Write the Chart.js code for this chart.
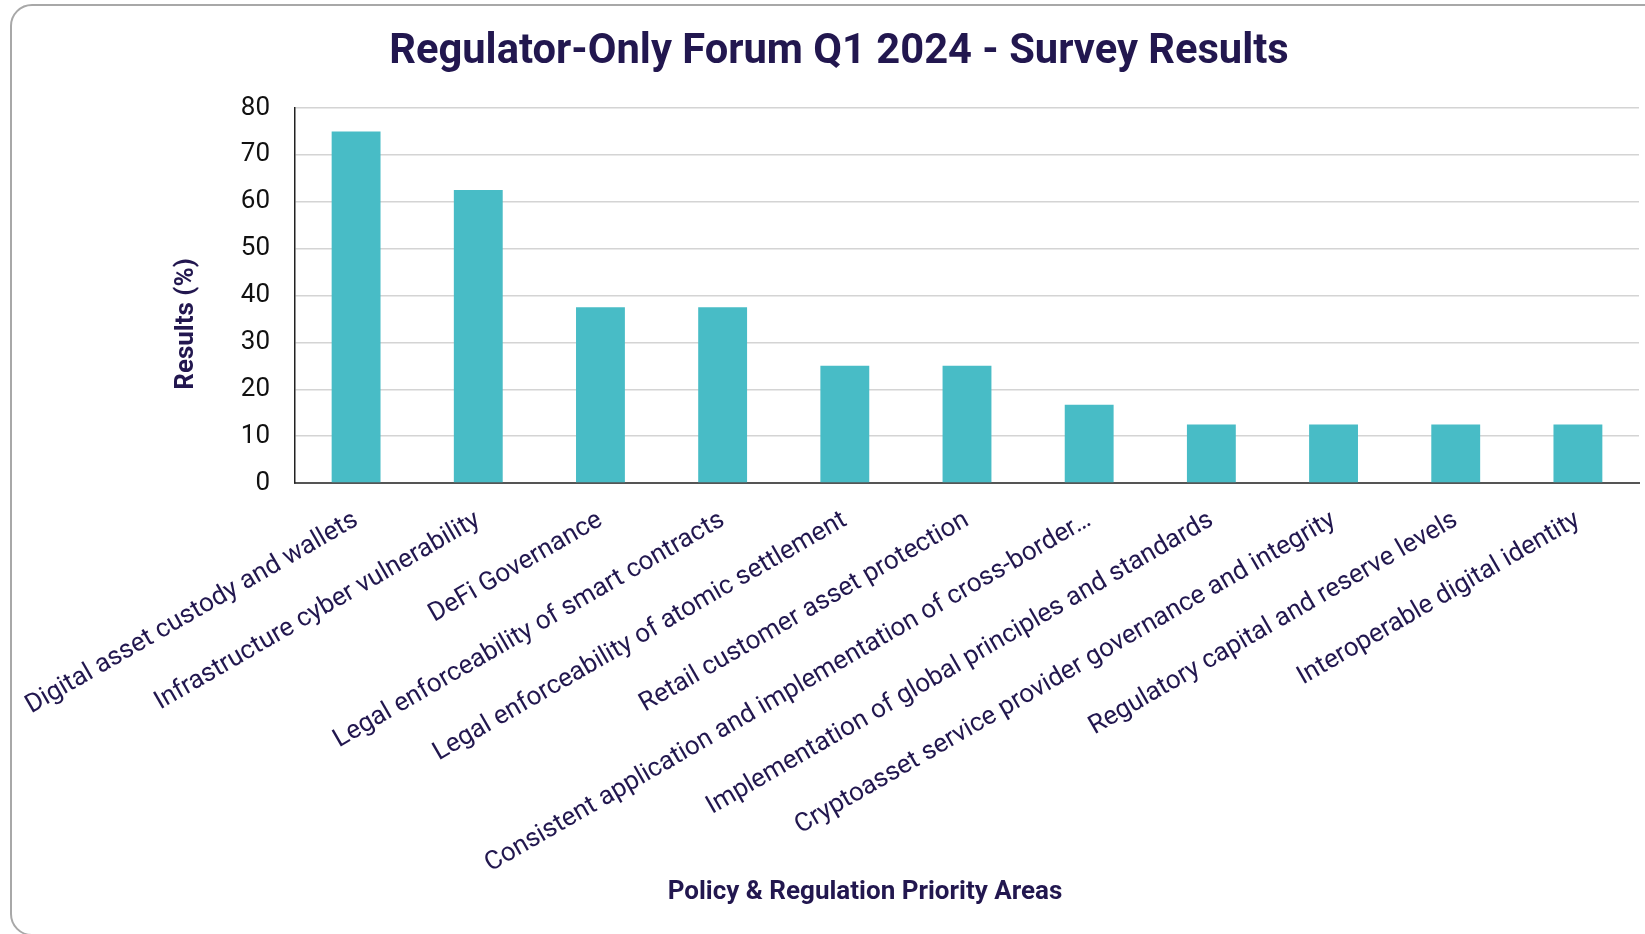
<!DOCTYPE html>
<html>
<head>
<meta charset="utf-8">
<title>Regulator-Only Forum Q1 2024 - Survey Results</title>
<script src="https://cdn.jsdelivr.net/npm/chart.js@4.4.1/dist/chart.umd.min.js"></script>
<style>
  html, body { margin: 0; padding: 0; background: #fff; overflow: hidden; }
  #frame {
    position: absolute; left: 10px; top: 4px; width: 1700px; height: 932px;
    border: 2px solid #a8a8a8; border-radius: 22px; box-sizing: border-box;
  }
  #mycanvas { position: absolute; left: 0; top: 0; }
</style>
</head>
<body>
<div id="frame"></div>
<canvas id="mycanvas" width="1678" height="934"></canvas>
<script>
const categories = [
    "Digital asset custody and wallets",
    "Infrastructure cyber vulnerability",
    "DeFi Governance",
    "Legal enforceability of smart contracts",
    "Legal enforceability of atomic settlement",
    "Retail customer asset protection",
    "Consistent application and implementation of cross-border\u2026",
    "Implementation of global principles and standards",
    "Cryptoasset service provider governance and integrity",
    "Regulatory capital and reserve levels",
    "Interoperable digital identity"
];
const results = [75, 62.5, 37.5, 37.5, 25, 25, 16.7, 12.5, 12.5, 12.5, 12.5];
const yTicks = [0, 10, 20, 30, 40, 50, 60, 70, 80];

const navy = "#22174f";
const font = "Roboto, 'Noto Sans', sans-serif";

// axis titles sit off-centre in the original, so draw them by hand
const axisTitles = {
    id: "axisTitles",
    afterDraw(chart) {
        const c = chart.ctx;
        c.save();
        c.fillStyle = navy;
        c.font = "bold 26px " + font;
        c.textAlign = "center";
        c.textBaseline = "middle";
        c.fillText("Policy & Regulation Priority Areas", 865, 892);
        c.translate(186, 324);
        c.rotate(-Math.PI / 2);
        c.fillText("Results (%)", 0, 0);
        c.restore();
    }
};

const ctx = document.getElementById("mycanvas").getContext("2d");

var chart = new Chart(ctx, {
    type: "bar",
    data: {
        labels: categories,
        datasets: [
            {
                label: "Results",
                data: results,
                backgroundColor: "#48bcc6",
                categoryPercentage: 1,
                barPercentage: 0.4
            }
        ]
    },
    options: {
        responsive: false,
        animation: false,
        layout: {
            padding: { top: 0, left: 39, bottom: 0, right: 39 }
        },
        scales: {
            x: {
                grid: { display: false },
                border: { color: "#555555", width: 2 },
                ticks: {
                    color: navy,
                    font: { family: font, size: 26 },
                    minRotation: 30,
                    maxRotation: 30,
                    autoSkip: false,
                    padding: 14
                },
                afterFit(scale) { scale.height = 451; }
            },
            y: {
                min: 0,
                max: 80,
                afterBuildTicks(scale) { scale.ticks = yTicks.map(v => ({ value: v })); },
                grid: { color: "#d4d4d4", lineWidth: 1.5, drawTicks: false },
                border: { color: "#222222", width: 1.5 },
                ticks: {
                    color: "#111111",
                    font: { family: font, size: 26 },
                    padding: 25
                },
                afterFit(scale) { scale.width = 256; }
            }
        },
        plugins: {
            title: {
                display: true,
                text: "Regulator-Only Forum Q1 2024 - Survey Results",
                color: navy,
                font: { family: font, size: 41.7, weight: "bold" },
                padding: { top: 28, bottom: 30 }
            },
            legend: { display: false },
            tooltip: { enabled: false }
        }
    },
    plugins: [axisTitles]
});
</script>
</body>
</html>
